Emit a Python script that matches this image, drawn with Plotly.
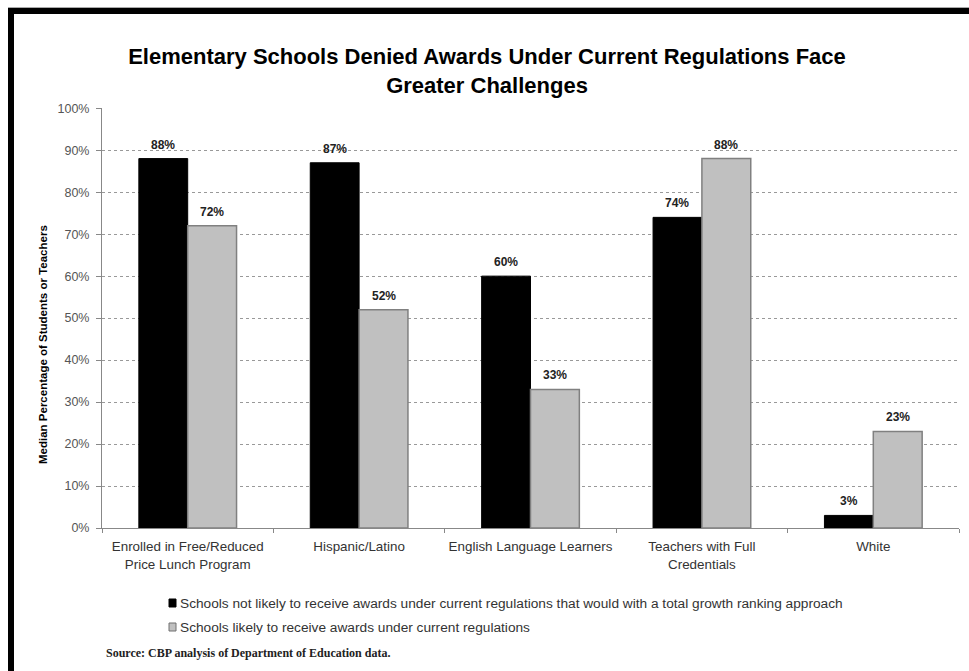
import plotly.graph_objects as go

categories = ["Enrolled in Free/Reduced<br>Price Lunch Program", "Hispanic/Latino",
              "English Language Learners", "Teachers with Full<br>Credentials", "White"]
not_likely = [88, 87, 60, 74, 3]
likely = [72, 52, 33, 88, 23]
series_names = ["Schools not likely to receive awards under current regulations that would with a total growth ranking approach",
                "Schools likely to receive awards under current regulations"]
y_ticks = [0, 10, 20, 30, 40, 50, 60, 70, 80, 90, 100]

W, H = 969, 671
L, R, T, B = 102, 10, 108, 143
pw, ph = W - L - R, H - T - B

def px_x(x):
    return (x - L) / pw

def px_y(y):
    return (H - B - y) / ph

FONT = "Liberation Sans, Arial, sans-serif"
BAR_PX = 49  # half-offset of grouped bars in pixels

fig = go.Figure()
fig.add_trace(go.Bar(
    x=categories, y=not_likely, name=series_names[0],
    marker=dict(color="#000000", line=dict(color="#000000", width=1)),
))
fig.add_trace(go.Bar(
    x=categories, y=likely, name=series_names[1],
    marker=dict(color="#c0c0c0", line=dict(color="#808080", width=1.5)),
))

annotations = []
for vals, shift in ((not_likely, -BAR_PX / 2), (likely, BAR_PX / 2)):
    for c, v in zip(categories, vals):
        annotations.append(dict(
            x=c, y=v, xref="x", yref="y", text=f"<b>{v}%</b>", showarrow=False,
            xanchor="center", yanchor="bottom", xshift=shift, yshift=5,
            font=dict(family=FONT, size=12, color="#222222")))

# y-axis title
annotations.append(dict(
    text="<b>Median Percentage of Students or Teachers</b>", xref="paper", yref="paper",
    x=px_x(43), y=px_y(345), xanchor="center", yanchor="middle", textangle=-90, showarrow=False,
    font=dict(family=FONT, size=11.5, color="#000000")))

# legend (manual)
legend_y = [603, 627]
legend_fill = ["#000000", "#c0c0c0"]
legend_line = ["#000000", "#707070"]
shapes = []
for name, yy, fc, lc in zip(series_names, legend_y, legend_fill, legend_line):
    annotations.append(dict(
        text=name, xref="paper", yref="paper", x=px_x(178), y=px_y(yy),
        xanchor="left", yanchor="middle", showarrow=False,
        font=dict(family=FONT, size=13.7, color="#333333")))
    shapes.append(dict(type="rect", xref="paper", yref="paper",
                       x0=px_x(169), x1=px_x(176), y0=px_y(yy + 4), y1=px_y(yy - 4),
                       fillcolor=fc, line=dict(color=lc, width=1)))

annotations.append(dict(
    text="<b>Source: CBP analysis of Department of Education data.</b>", xref="paper", yref="paper",
    x=px_x(104), y=px_y(653), xanchor="left", yanchor="middle", showarrow=False,
    font=dict(family="Liberation Serif, Times New Roman, serif", size=12, color="#222222")))

shapes += [
    dict(type="rect", xref="paper", yref="paper", x0=px_x(8), x1=px_x(975), y0=px_y(7), y1=px_y(8),
         fillcolor="#aaaaaa", line=dict(width=0), layer="above"),
    dict(type="rect", xref="paper", yref="paper", x0=px_x(8), x1=px_x(975), y0=px_y(8), y1=px_y(14),
         fillcolor="#000000", line=dict(width=0), layer="above"),
    dict(type="rect", xref="paper", yref="paper", x0=px_x(8), x1=px_x(14), y0=px_y(8), y1=px_y(680),
         fillcolor="#000000", line=dict(width=0), layer="above"),
]

fig.update_layout(
    width=W, height=H,
    margin=dict(l=L, r=R, t=T, b=B, pad=0),
    paper_bgcolor="white", plot_bgcolor="white",
    barmode="group", bargap=0.43, bargroupgap=0,
    title=dict(text="<b>Elementary Schools Denied Awards Under Current Regulations Face<br>Greater Challenges</b>",
               xref="container", yref="container",
               x=487 / W, xanchor="center", y=1 - 64 / H, yanchor="top",
               font=dict(family=FONT, size=22, color="#000000")),
    font=dict(family=FONT, size=12, color="#333333"),
    showlegend=False,
    xaxis=dict(showline=True, linecolor="#888888", linewidth=1, ticks="outside", ticklen=4,
               tickcolor="#888888", tickson="boundaries", showgrid=False, ticklabelstandoff=6,
               tickangle=0, automargin=False,
               tickfont=dict(family=FONT, size=13.4, color="#333333")),
    yaxis=dict(range=[0, 100.05], tickvals=y_ticks, ticktext=[f"{v}%" for v in y_ticks],
               showline=True, linecolor="#888888", linewidth=1, ticks="outside", ticklen=5,
               tickcolor="#888888", showgrid=True, gridcolor="#999999", griddash="3px,3px", gridwidth=1,
               zeroline=False, ticklabelstandoff=4,
               tickfont=dict(family=FONT, size=12.5, color="#555555")),
    shapes=shapes,
    annotations=annotations,
)

fig.write_html("out.html")
